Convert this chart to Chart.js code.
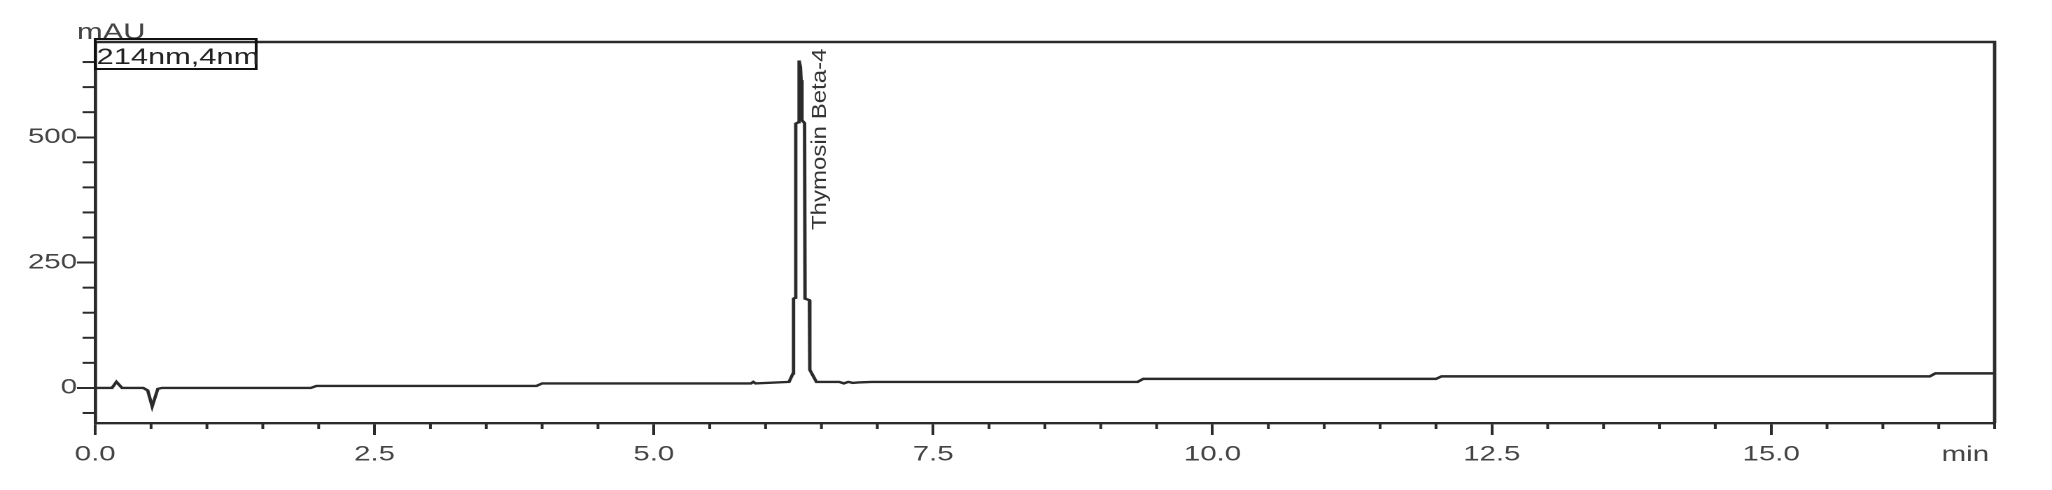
<!DOCTYPE html>
<html>
<head>
<meta charset="utf-8">
<title>Chromatogram 214nm</title>
<script src="https://cdn.jsdelivr.net/npm/chart.js@4.4.0/dist/chart.umd.min.js"></script>
<style>
  html, body { margin: 0; padding: 0; background: #fff; }
  canvas { display: block; }
</style>
</head>
<body>
<!-- drawn narrow and stretched sideways, the way the printout looks -->
<canvas id="chromatogram" width="1466" height="490" style="width:2052px;height:490px"></canvas>
<script>
// retention time (min) and detector signal (mAU)
const times = [0, 0.15, 0.19, 0.24, 0.43, 0.47, 0.51, 0.56, 0.6,
  1.93, 1.98, 3.95, 4.0, 5.87, 5.89, 5.91,
  6.21, 6.246, 6.25, 6.265, 6.27, 6.295, 6.3, 6.312, 6.318, 6.326, 6.349, 6.353, 6.392, 6.396, 6.455,
  6.66, 6.7, 6.74, 6.78, 6.83, 6.95,
  9.33, 9.38, 12.0, 12.05, 16.42, 16.47, 17.0];
const signal = [0, 0, 12, 0, 0, -5, -37, -2, 0,
  0, 4, 4, 9, 9, 12, 9,
  12, 29, 178, 180, 527, 530, 653, 640, 614, 534, 528, 178, 175, 36, 12,
  12, 9, 12, 10, 11, 12,
  12, 18, 18, 23, 23, 29, 29];

const xMajorTicks = [0, 2.5, 5, 7.5, 10, 12.5, 15];
const yMajorTicks = [0, 250, 500];
const xUnit = "min";
const yUnit = "mAU";
const channel = "214nm,4nm";
const peakName = "Thymosin Beta-4";
const peakTime = 6.35;

const FONT = '"Liberation Sans", Arial, sans-serif';
const INK = "#2b2b2b";

const points = times.map((t, i) => ({ x: t, y: signal[i] }));

// frame, minor ticks and the annotations
const chromDecor = {
  id: "chromDecor",
  afterDraw(chart) {
    const { ctx, chartArea, scales } = chart;
    const { left, right, top, bottom } = chartArea;
    ctx.save();
    ctx.strokeStyle = INK;
    ctx.lineWidth = 2.4;

    ctx.beginPath();
    ctx.moveTo(left, top);
    ctx.lineTo(right, top);
    ctx.lineTo(right, bottom);
    ctx.stroke();

    ctx.lineWidth = 2;
    scales.y.ticks.forEach((t) => {
      if (yMajorTicks.includes(t.value)) return;
      const py = scales.y.getPixelForValue(t.value);
      ctx.beginPath();
      ctx.moveTo(left - 9, py);
      ctx.lineTo(left, py);
      ctx.stroke();
    });
    scales.x.ticks.forEach((t) => {
      if (xMajorTicks.includes(t.value)) return;
      const px = scales.x.getPixelForValue(t.value);
      ctx.beginPath();
      ctx.moveTo(px, bottom);
      ctx.lineTo(px, bottom + 6);
      ctx.stroke();
    });

    // unit at the end of the time axis
    ctx.fillStyle = "#444";
    ctx.font = "21px " + FONT;
    ctx.textAlign = "right";
    ctx.textBaseline = "middle";
    ctx.fillText(xUnit, right - 4, bottom + 32);

    // unit over the y axis
    ctx.font = "22px " + FONT;
    ctx.textAlign = "left";
    ctx.textBaseline = "alphabetic";
    ctx.fillText(yUnit, left - 13, top - 3);

    // channel box
    ctx.strokeStyle = "#111";
    ctx.strokeRect(left, top - 3, 115, 30);
    ctx.fillStyle = "#222";
    ctx.fillText(channel, left + 1, top + 22);

    // peak name, upright along the peak
    const px = scales.x.getPixelForValue(peakTime) + 15;
    const py = scales.y.getPixelForValue(315);
    ctx.translate(px, py);
    ctx.scale(0.62, 1);
    ctx.rotate(-Math.PI / 2);
    ctx.font = "24px " + FONT;
    ctx.fillStyle = "#333";
    ctx.fillText(peakName, 0, 0);
    ctx.restore();
  }
};

new Chart(document.getElementById("chromatogram"), {
  type: "line",
  data: {
    datasets: [
      {
        label: channel,
        data: points,
        borderColor: INK,
        borderWidth: 2.4,
        pointRadius: 0,
        tension: 0,
        fill: false,
      },
    ],
  },
  options: {
    responsive: false,
    animation: false,
    devicePixelRatio: 2,
    events: [],
    layout: { padding: { top: 42, right: 41, left: 0, bottom: 0 } },
    plugins: {
      legend: { display: false },
      tooltip: { enabled: false },
    },
    scales: {
      x: {
        type: "linear",
        min: 0,
        max: 17,
        afterFit: (scale) => { scale.height = 67; },
        border: { color: INK, width: 2.4 },
        grid: {
          drawOnChartArea: false,
          tickLength: 12,
          tickWidth: 2,
          tickColor: (c) => (c.tick && xMajorTicks.includes(c.tick.value) ? INK : "rgba(0,0,0,0)"),
        },
        ticks: {
          stepSize: 0.5,
          maxTicksLimit: 100,
          autoSkip: false,
          maxRotation: 0,
          padding: 7,
          color: "#444",
          font: { family: FONT, size: 21 },
          callback: (v) => (xMajorTicks.includes(v) ? v.toFixed(1) : ""),
        },
      },
      y: {
        min: -70,
        max: 690,
        afterFit: (scale) => { scale.width = 68; },
        border: { color: INK, width: 2.4 },
        grid: {
          drawOnChartArea: false,
          tickLength: 13,
          tickWidth: 2,
          tickColor: (c) => (c.tick && yMajorTicks.includes(c.tick.value) ? INK : "rgba(0,0,0,0)"),
        },
        ticks: {
          stepSize: 50,
          maxTicksLimit: 100,
          autoSkip: false,
          includeBounds: false,
          padding: 0,
          color: "#444",
          font: { family: FONT, size: 21 },
          callback: (v) => (yMajorTicks.includes(v) ? String(v) : ""),
        },
      },
    },
  },
  plugins: [chromDecor],
});
</script>
</body>
</html>
